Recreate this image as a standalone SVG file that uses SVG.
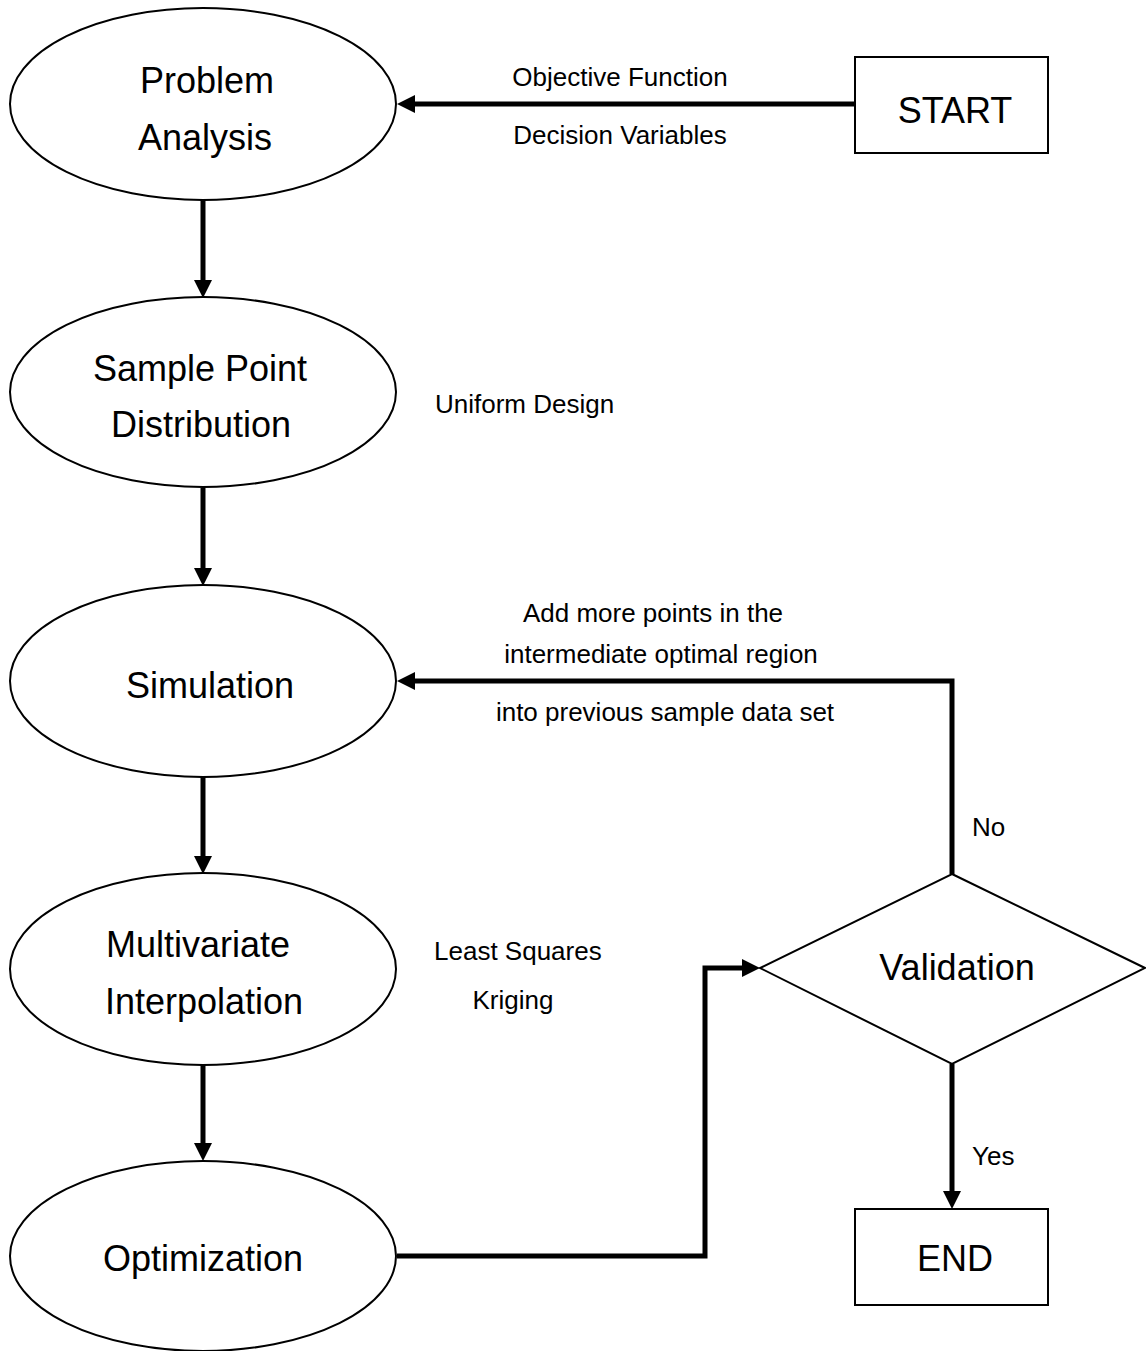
<svg xmlns="http://www.w3.org/2000/svg" width="1146" height="1351" viewBox="0 0 1146 1351">
<style>
.n{fill:#fff;stroke:#000;stroke-width:2}
.t{font-family:"Liberation Sans",Arial,sans-serif;font-size:36px;fill:#000;text-anchor:middle}
.l{font-family:"Liberation Sans",Arial,sans-serif;font-size:26px;fill:#000}
.c{fill:none;stroke:#000;stroke-width:5}
</style>
<defs>
<marker id="a" markerUnits="userSpaceOnUse" markerWidth="20" markerHeight="20" refX="4" refY="9" orient="auto">
<path d="M0,0 L18,9 L0,18 Z" fill="#000"/>
</marker>
</defs>
<g id="connectors">
<path class="c" d="M855,104 H411" marker-end="url(#a)"/>
<path class="c" d="M203,200 V284" marker-end="url(#a)"/>
<path class="c" d="M203,488 V572" marker-end="url(#a)"/>
<path class="c" d="M203,777 V860" marker-end="url(#a)"/>
<path class="c" d="M203,1065 V1147" marker-end="url(#a)"/>
<path class="c" d="M397,1256 H705 V968 H746" marker-end="url(#a)"/>
<path class="c" d="M952,874 V681 H411" marker-end="url(#a)"/>
<path class="c" d="M952,1064 V1195" marker-end="url(#a)"/>
<text class="l" x="620" y="86" text-anchor="middle">Objective Function</text>
<text class="l" x="620" y="144" text-anchor="middle">Decision Variables</text>
<text class="l" x="435" y="413">Uniform Design</text>
<text class="l" x="653" y="622" text-anchor="middle">Add more points in the</text>
<text class="l" x="661" y="663" text-anchor="middle">intermediate optimal region</text>
<text class="l" x="665" y="721" text-anchor="middle">into previous sample data set</text>
<text class="l" x="972" y="836">No</text>
<text class="l" x="434" y="960">Least Squares</text>
<text class="l" x="513" y="1009" text-anchor="middle">Kriging</text>
<text class="l" x="972" y="1165">Yes</text>
</g>
<g id="problem-analysis">
<ellipse class="n" cx="203" cy="104" rx="193" ry="96"/>
<text class="t" x="207" y="93">Problem</text>
<text class="t" x="205" y="150">Analysis</text>
</g>
<g id="sample-point-distribution">
<ellipse class="n" cx="203" cy="392" rx="193" ry="95"/>
<text class="t" x="200" y="381">Sample Point</text>
<text class="t" x="201" y="437">Distribution</text>
</g>
<g id="simulation">
<ellipse class="n" cx="203" cy="681" rx="193" ry="96"/>
<text class="t" x="210" y="698">Simulation</text>
</g>
<g id="multivariate-interpolation">
<ellipse class="n" cx="203" cy="969" rx="193" ry="96"/>
<text class="t" x="198" y="957">Multivariate</text>
<text class="t" x="204" y="1014">Interpolation</text>
</g>
<g id="optimization">
<ellipse class="n" cx="203" cy="1256" rx="193" ry="95"/>
<text class="t" x="203" y="1271">Optimization</text>
</g>
<g id="start">
<rect class="n" x="855" y="57" width="193" height="96"/>
<text class="t" x="955" y="123">START</text>
</g>
<g id="validation">
<polygon class="n" points="952,874 1145,968 952,1064 760,968"/>
<text class="t" x="957" y="980">Validation</text>
</g>
<g id="end">
<rect class="n" x="855" y="1209" width="193" height="96"/>
<text class="t" x="955" y="1271">END</text>
</g>
</svg>
